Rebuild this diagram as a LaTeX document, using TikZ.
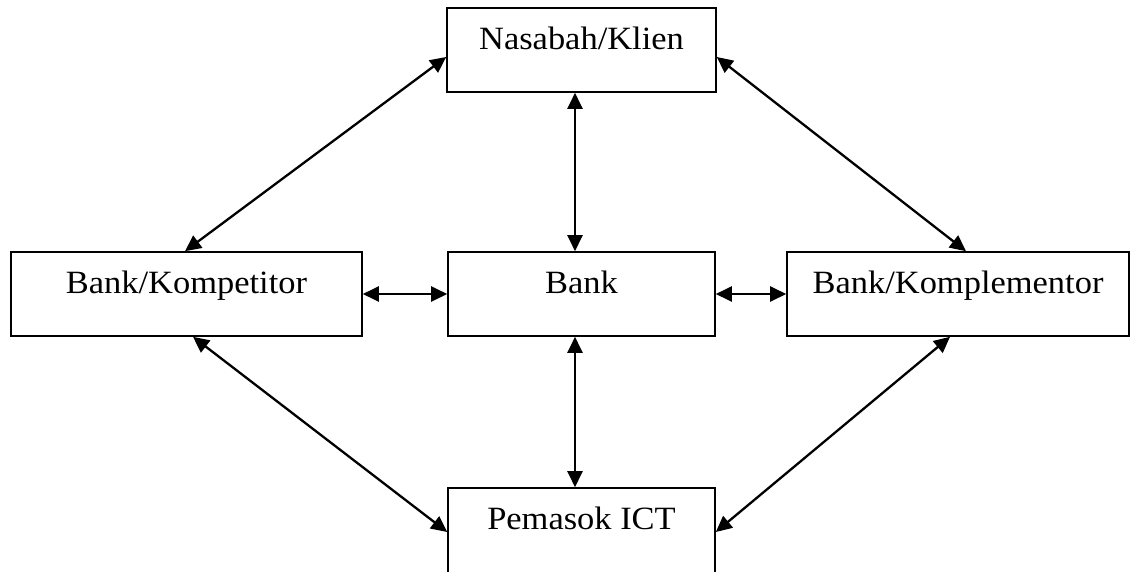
\documentclass[tikz,border=0pt]{standalone}
\usepackage{fontspec}
\setmainfont{Liberation Serif}[FakeStretch=1.06]
\usetikzlibrary{arrows.meta}
\tikzset{
  box/.style={draw, line width=1.6pt, rectangle, inner sep=0pt, minimum height=84pt,
    text height=41pt, text depth=43pt, align=center,
    font=\fontsize{32.5pt}{37pt}\selectfont},
  conn/.style={line width=2.3pt, {Triangle[length=16pt,width=15pt]}-{Triangle[length=16pt,width=15pt]}}
}
\begin{document}
\begin{tikzpicture}[x=1pt,y=-1pt]
\useasboundingbox (0,0) rectangle (1130,571);
\node[box, minimum width=269pt] (nas) at (581.5,50) {Nasabah/Klien};
\node[box, minimum width=351pt] (komp) at (186.5,294) {Bank/Kompetitor};
\node[box, minimum width=267pt] (bank) at (581.5,294) {Bank};
\node[box, minimum width=342pt] (kmpl) at (958,294) {Bank/Komplementor};
\node[box, minimum width=267pt, minimum height=96pt, text depth=55pt] (pem) at (581.5,536) {Pemasok ICT};
\draw[conn] ([xshift=-6.5pt]nas.south) -- ([xshift=-6.5pt]bank.north);
\draw[conn] ([xshift=-6.5pt]bank.south) -- ([xshift=-6.5pt]pem.north);
\draw[conn] (komp.east) -- (bank.west);
\draw[conn] (bank.east) -- (kmpl.west);
\draw[conn] ([xshift=-1.5pt]komp.north) -- ([yshift=-7pt]nas.west);
\draw[conn] ([yshift=-7pt]nas.east) -- ([xshift=8pt]kmpl.north);
\draw[conn] ([xshift=6.5pt]komp.south) -- (pem.west |- 0,532);
\draw[conn] ([xshift=-8pt]kmpl.south) -- (pem.east |- 0,532);
\end{tikzpicture}
\end{document}
